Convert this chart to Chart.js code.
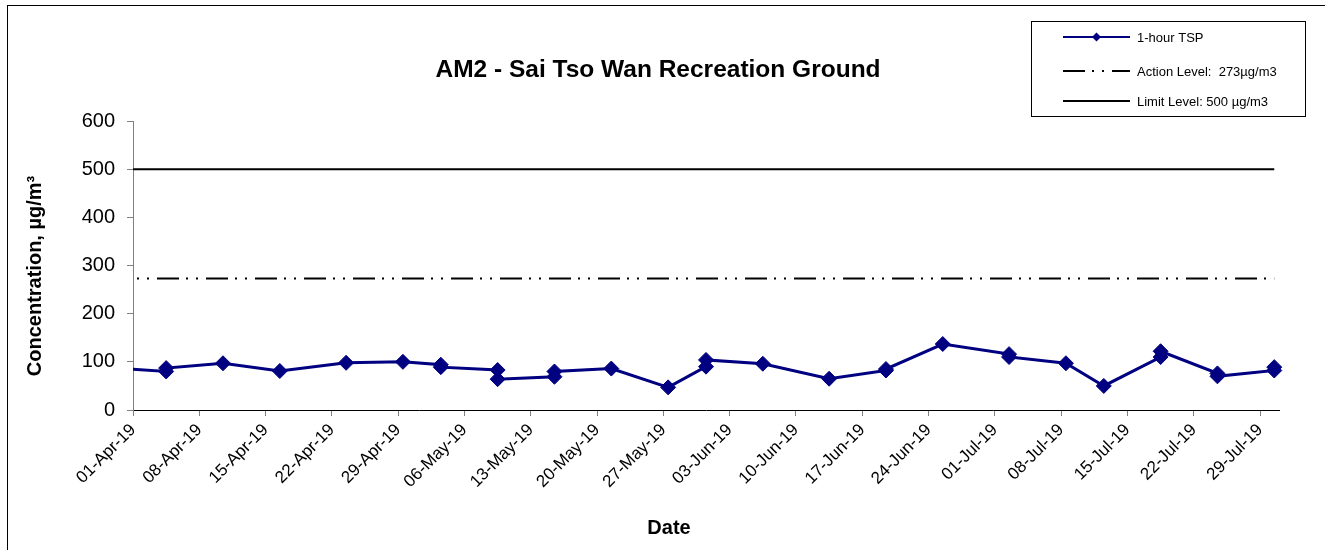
<!DOCTYPE html>
<html>
<head>
<meta charset="utf-8">
<script src="https://cdn.jsdelivr.net/npm/chart.js@4.4.1/dist/chart.umd.min.js"></script>
<style>
  html, body { margin: 0; padding: 0; background: #fff; }
  canvas { display: block; }
</style>
</head>
<body>
<canvas id="chart" width="1325" height="550"></canvas>
<script>
// ---- text ----
const chartTitle = 'AM2 - Sai Tso Wan Recreation Ground';
const xAxisTitle = 'Date';
const yAxisTitle = 'Concentration, µg/m³';
const seriesNames = ['1-hour TSP', 'Action Level:  273µg/m3', 'Limit Level: 500 µg/m3'];

// ---- date axis ----
const axisStart = '01-Apr-19';
const axisEnd = '31-Jul-19';
const tickLabels = ['01-Apr-19', '08-Apr-19', '15-Apr-19', '22-Apr-19', '29-Apr-19', '06-May-19',
  '13-May-19', '20-May-19', '27-May-19', '03-Jun-19', '10-Jun-19', '17-Jun-19', '24-Jun-19',
  '01-Jul-19', '08-Jul-19', '15-Jul-19', '22-Jul-19', '29-Jul-19'];

// ---- 1-hour TSP readings (µg/m3), one entry per reading ----
const tspDates = ['29-Mar-19', '04-Apr-19', '04-Apr-19', '10-Apr-19', '16-Apr-19', '23-Apr-19',
  '29-Apr-19', '03-May-19', '03-May-19', '09-May-19', '09-May-19', '15-May-19', '15-May-19',
  '21-May-19', '27-May-19', '31-May-19', '31-May-19', '06-Jun-19', '13-Jun-19', '19-Jun-19',
  '19-Jun-19', '25-Jun-19', '02-Jul-19', '02-Jul-19', '08-Jul-19', '12-Jul-19', '18-Jul-19',
  '18-Jul-19', '24-Jul-19', '24-Jul-19', '30-Jul-19', '30-Jul-19'];
const tspValues = [88, 80, 87, 97, 81, 98,
  100, 94, 89, 83, 64, 69, 80,
  86, 47, 90, 104, 96, 65, 82,
  85, 137, 116, 110, 97, 50, 110,
  122, 76, 70, 82, 89];

// ---- compliance levels (µg/m3) ----
const actionLevel = 273;
const limitLevel = 500;

// ---- y axis ----
const yMin = 0, yMax = 600, yStep = 100;

const MONTHS = { Jan: 0, Feb: 1, Mar: 2, Apr: 3, May: 4, Jun: 5, Jul: 6, Aug: 7, Sep: 8, Oct: 9, Nov: 10, Dec: 11 };
function toUTC(label) {
  const [d, m, y] = label.split('-');
  return Date.UTC(2000 + Number(y), MONTHS[m], Number(d));
}
const DAY = 86400000;
// whole days since the first day of the axis
function dayIndex(label) { return Math.round((toUTC(label) - toUTC(axisStart)) / DAY); }

const tickDays = tickLabels.map(dayIndex);
const axisMax = dayIndex(axisEnd);
// readings sit in the middle of their day slot
const tspPoints = tspDates.map((d, i) => ({ x: dayIndex(d) + 0.5, y: tspValues[i] }));
const lastSample = dayIndex(tspDates[tspDates.length - 1]) + 0.5;
const levelLine = v => [{ x: 0, y: v }, { x: lastSample, y: v }];

const FONT = "'Liberation Sans', Arial, Helvetica, sans-serif";
Chart.defaults.font.family = FONT;
Chart.defaults.color = '#000';

// Frame, title, axis titles and the boxed legend
const decorations = {
  id: 'decorations',
  afterDraw(chart) {
    const ctx = chart.ctx;
    ctx.save();

    // outer frame
    ctx.strokeStyle = '#000';
    ctx.lineWidth = 1;
    ctx.setLineDash([]);
    ctx.strokeRect(7.5, 5.5, 1400, 600);

    // title
    ctx.fillStyle = '#000';
    ctx.textAlign = 'center';
    ctx.textBaseline = 'middle';
    ctx.font = 'bold 24.5px ' + FONT;
    ctx.fillText(chartTitle, 658, 70);

    // axis titles
    ctx.font = 'bold 20px ' + FONT;
    ctx.fillText(xAxisTitle, 669, 528);
    ctx.save();
    ctx.translate(35, 276);
    ctx.rotate(-Math.PI / 2);
    ctx.fillText(yAxisTitle, 0, 0);
    ctx.restore();

    // legend
    ctx.strokeStyle = '#000';
    ctx.lineWidth = 1;
    ctx.strokeRect(1031.5, 21.5, 274, 95);
    const rows = [37, 71, 101];
    chart.data.datasets.forEach((ds, i) => {
      const y = rows[i];
      ctx.save();
      ctx.strokeStyle = ds.borderColor;
      ctx.lineWidth = 2;
      ctx.setLineDash(ds.borderDash || []);
      ctx.beginPath();
      ctx.moveTo(1063, y);
      ctx.lineTo(1130, y);
      ctx.stroke();
      ctx.restore();
      if (ds.pointRadius) {
        const cx = 1096.5, r = 4.5;
        ctx.beginPath();
        ctx.moveTo(cx - r, y);
        ctx.lineTo(cx, y - r);
        ctx.lineTo(cx + r, y);
        ctx.lineTo(cx, y + r);
        ctx.closePath();
        ctx.fillStyle = ds.pointBackgroundColor;
        ctx.fill();
      }
      ctx.fillStyle = '#000';
      ctx.textAlign = 'left';
      ctx.textBaseline = 'middle';
      ctx.font = '13px ' + FONT;
      ctx.fillText(ds.label, 1137, y + 1);
    });
    ctx.restore();
  }
};

new Chart(document.getElementById('chart'), {
  type: 'line',
  data: {
    datasets: [
      {
        label: seriesNames[0],
        data: tspPoints,
        borderColor: '#000080',
        backgroundColor: '#000080',
        borderWidth: 3,
        pointStyle: 'rectRot',
        pointRadius: 7.5,
        pointBorderWidth: 1,
        pointBackgroundColor: '#000080',
        pointBorderColor: '#000080',
        tension: 0,
        clip: { left: 0, top: false, right: false, bottom: false }
      },
      {
        label: seriesNames[1],
        data: levelLine(actionLevel),
        borderColor: '#000',
        borderWidth: 2,
        borderDash: [22, 7, 2, 8, 2, 8],
        borderDashOffset: 25,
        pointRadius: 0,
        tension: 0
      },
      {
        label: seriesNames[2],
        data: levelLine(limitLevel),
        borderColor: '#000',
        borderWidth: 2,
        pointRadius: 0,
        tension: 0
      }
    ]
  },
  options: {
    responsive: false,
    animation: false,
    devicePixelRatio: 1,
    layout: { padding: { top: 121, right: 46, bottom: 0, left: 0 } },
    plugins: {
      legend: { display: false },
      title: { display: false },
      tooltip: { enabled: false }
    },
    scales: {
      x: {
        type: 'linear',
        min: 0,
        max: axisMax,
        afterBuildTicks: scale => { scale.ticks = tickDays.map(v => ({ value: v })); },
        afterFit: scale => { scale.height = 140; },
        ticks: {
          autoSkip: false,
          minRotation: 45,
          maxRotation: 45,
          padding: 4,
          color: '#000',
          font: { size: 17 },
          callback: value => tickLabels[tickDays.indexOf(value)]
        },
        grid: { drawOnChartArea: false, drawTicks: true, tickLength: 6, color: '#808080' },
        border: { color: '#000', width: 1 }
      },
      y: {
        min: yMin,
        max: yMax,
        afterFit: scale => { scale.width = 133; },
        ticks: { stepSize: yStep, padding: 12, color: '#000', font: { size: 20 } },
        grid: { drawOnChartArea: false, drawTicks: true, tickLength: 6, color: '#808080' },
        border: { color: '#808080', width: 1 }
      }
    }
  },
  plugins: [decorations]
});
</script>
</body>
</html>
